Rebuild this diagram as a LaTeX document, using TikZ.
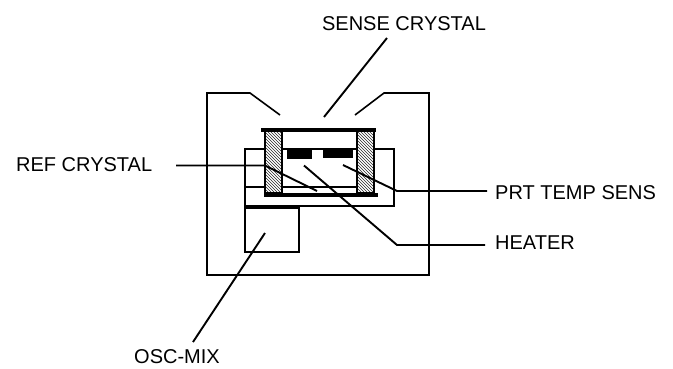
\documentclass[tikz,border=0pt]{standalone}
\usepackage{fontspec}
\setmainfont{Liberation Sans}
\usetikzlibrary{patterns}
\tikzset{
  x=1pt,y=-1pt,
  ln/.style={draw=black,line width=1.6pt},
  thick bar/.style={draw=black,line width=3.6pt},
  lead/.style={draw=black,line width=1.9pt},
  lab/.style={font=\fontsize{20}{24}\selectfont,inner sep=0pt,text=black},
  hatch/.style={pattern=north west lines,pattern color=black!85,draw=black,line width=1.4pt},
}
\begin{document}
\begin{tikzpicture}
\useasboundingbox (0,0) rectangle (673,368);
\fill[white] (0,0) rectangle (673,368);
% housing
\draw[ln] (280,115) -- (250,93) -- (207,93) -- (207,275) -- (429,275) -- (429,93) -- (384,93) -- (355,115);
% inner board
\draw[ln] (265,149) -- (245,149) -- (245,206) -- (394,206) -- (394,149) -- (374,149);
\draw[ln] (282,149) -- (356,149);
\draw[ln] (246,187) -- (265,187);
\draw[ln] (282,187) -- (356,187);
% osc box
\draw[ln] (245,206) -- (299,206);
\draw[ln] (245,206) -- (245,252) -- (299,252) -- (299,208) -- (245,208);
% posts
\draw[hatch] (265,131) rectangle (282,193);
\draw[hatch] (357,131) rectangle (374,193);
% bars
\draw[thick bar] (261,130) -- (376,130);
\draw[thick bar] (264,195) -- (378,195);
% heater
\fill (287,150) rectangle (312,159);
\fill (323,150) rectangle (353,158);
% labels
\node[lab,anchor=center] (sc) at (404,24) {SENSE CRYSTAL};
\node[lab,anchor=west] (rc) at (16,165) {REF CRYSTAL};
\node[lab,anchor=west] (pt) at (495,193) {PRT TEMP SENS};
\node[lab,anchor=west] (ht) at (495,243) {HEATER};
\node[lab,anchor=west] (om) at (134,357) {OSC-MIX};
% leaders
\coordinate (a1) at (387,38); \coordinate (a2) at (324,117);
\draw[lead] (a1) -- (a2);
\coordinate (b1) at (176,165.5); \coordinate (b2) at (265,165.5); \coordinate (b3) at (317,191);
\draw[lead] (b1) -- (b2) -- (b3);
\coordinate (c1) at (304,165.5); \coordinate (c2) at (397,245); \coordinate (c3) at (485,245);
\draw[lead] (c1) -- (c2) -- (c3);
\coordinate (d1) at (343,165); \coordinate (d2) at (397,191); \coordinate (d3) at (487,191);
\draw[lead] (d1) -- (d2) -- (d3);
\coordinate (e1) at (265,233); \coordinate (e2) at (193,342);
\draw[lead] (e1) -- (e2);
\end{tikzpicture}
\end{document}
